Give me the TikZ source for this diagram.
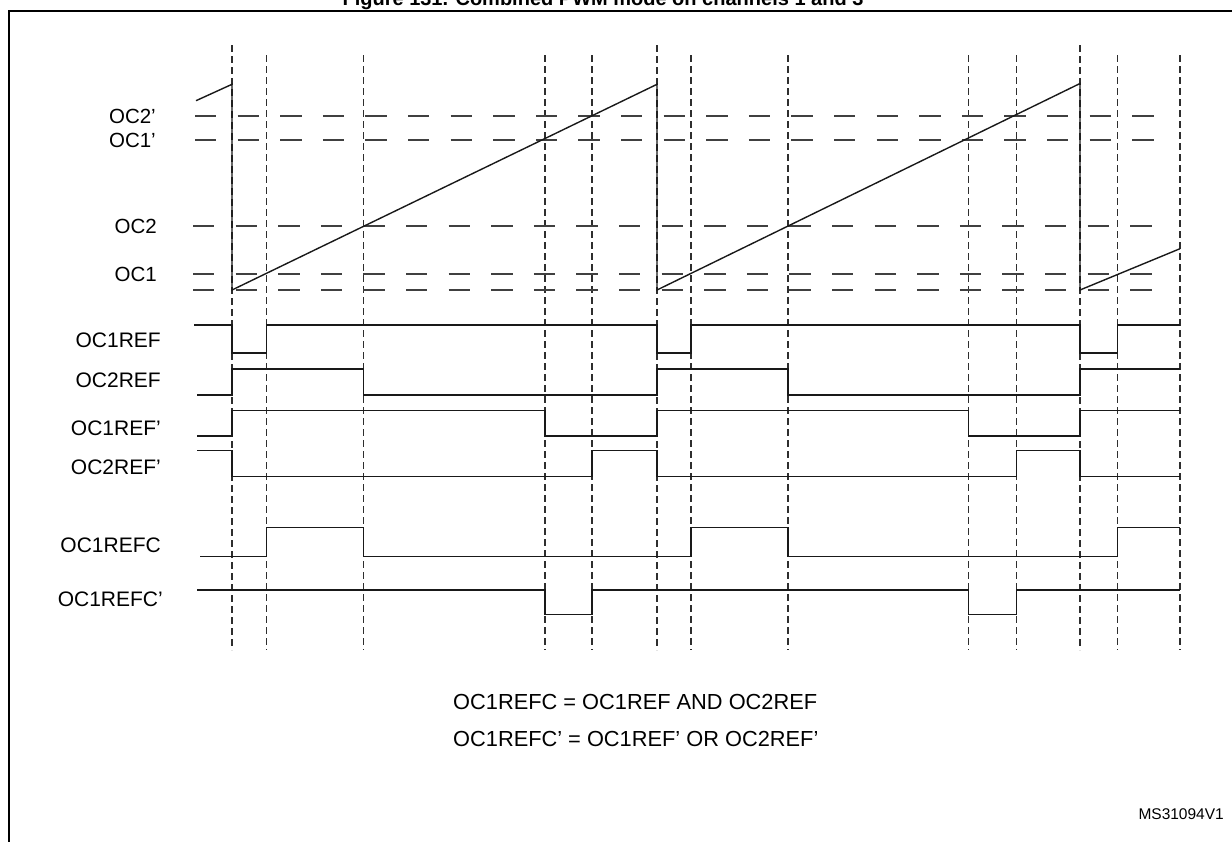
\documentclass[tikz,border=0pt]{standalone}
\usepackage{fontspec}
\setmainfont{Liberation Sans}
\definecolor{levelGray}{HTML}{404040}
\definecolor{markGray}{HTML}{2E2E2E}

\begin{document}
\begin{tikzpicture}[x=1pt, y=-1pt,
    sig/.style={line width=1.4pt, black!90},
    level/.style={line width=1.6pt, levelGray, dash pattern=on 21.3pt off 21.3pt},
    tmark/.style={line width=1.3pt, markGray, dash pattern=on 7pt off 4pt},
    lvlname/.style={anchor=east, inner sep=0pt, font=\fontsize{20.5}{24}\selectfont},
    signame/.style={anchor=east, inner sep=0pt, font=\fontsize{21}{24}\selectfont}]
    \useasboundingbox (0,0) rectangle (1232,841);
    \clip (0,0) rectangle (1232,841);

    % frame and title (cut at the top)
    \draw[line width=2.6pt] (9,850) -- (9,11) -- (1245,11);
    \node[anchor=base, inner sep=0pt, font=\bfseries\fontsize{20}{24}\selectfont] (title)
        at (603,5) {Figure 131. Combined PWM mode on channels 1 and 3};

    % time markers
    \foreach \t in {232,657,1080}
        \draw[tmark] (\t,45) -- (\t,650);
    \foreach \t in {266.5,363.5,545,592,691,788,968.5,1016.5,1117.5,1180}
        \draw[tmark] (\t,55) -- (\t,650);

    % compare levels
    \foreach \y in {116,140}
        \draw[level] (195,\y) -- (1155,\y);
    \foreach \y in {226,274,290}
        \draw[level] (193,\y) -- (1152,\y);

    \node[lvlname] (oc2p) at (156,116) {OC2’};
    \node[lvlname] (oc1p) at (156,140) {OC1’};
    \node[lvlname] (oc2) at (157,226) {OC2};
    \node[lvlname] (oc1) at (157,274) {OC1};

    % counter
    \draw[sig] (196,100.7) -- (232,84.3) -- (232,290) -- (657,84.3) -- (657,290)
        -- (1080,83.5) -- (1080,290) -- (1180,248.7);

    % reference signals
    \node[signame] (ref1) at (161,340.5) {OC1REF};
    \draw[sig] (194,325) -| (232,353) -| (266.5,325) -| (657,353) -| (691,325)
        -| (1080,353) -| (1117.5,325) -- (1180,325);

    \node[signame] (ref2) at (161,380.5) {OC2REF};
    \draw[sig] (197,395) -| (232,369) -| (363.5,395) -| (657,369) -| (788,395)
        -| (1080,369) -- (1180,369);

    \node[signame] (ref1p) at (161,428) {OC1REF’};
    \draw[sig] (197,436) -| (232,410.5) -| (545,436) -| (657,410.5) -| (968.5,436)
        -| (1080,410.5) -- (1180,410.5);

    \node[signame] (ref2p) at (161,467.5) {OC2REF’};
    \draw[sig] (197,450.5) -| (232,476.5) -| (592,450.5) -| (657,476.5) -| (1016.5,450.5)
        -| (1080,476.5) -- (1180,476.5);

    % combined signals
    \node[signame] (refc) at (161,545.5) {OC1REFC};
    \draw[sig] (200,556.5) -| (266.5,527.5) -| (363.5,556.5) -| (691,527.5) -| (788,556.5)
        -| (1117.5,527.5) -- (1180,527.5);

    \node[signame] (refcp) at (163,599) {OC1REFC’};
    \draw[sig] (197,590) -| (545,614.5) -| (592,590) -| (968.5,614.5) -| (1016.5,590)
        -- (1180,590);

    % logic
    \node[anchor=west, inner sep=0pt, font=\fontsize{21.8}{26}\selectfont] (eqand)
        at (453,702) {OC1REFC = OC1REF AND OC2REF};
    \node[anchor=west, inner sep=0pt, font=\fontsize{21.8}{26}\selectfont] (eqor)
        at (453,739) {OC1REFC’ = OC1REF’ OR OC2REF’};

    \node[anchor=east, inner sep=0pt, font=\fontsize{15.5}{18}\selectfont] (docid)
        at (1224,814) {MS31094V1};
\end{tikzpicture}
\end{document}
